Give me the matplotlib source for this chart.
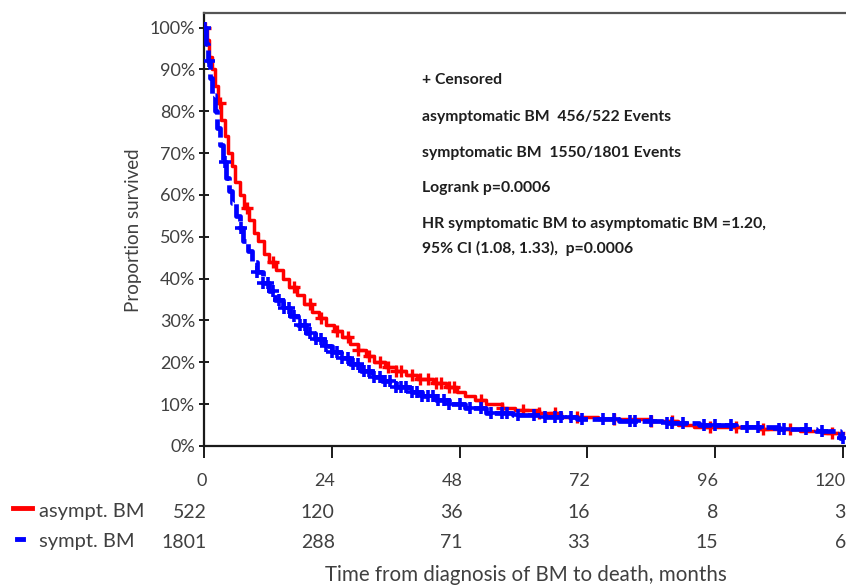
import numpy as np
import matplotlib
matplotlib.use("Agg")
import matplotlib.pyplot as plt
import matplotlib.transforms as mtransforms

# ---------------- data ----------------
red_t = [0, 0.5, 1.0, 1.5, 2.0, 2.6, 3.2, 3.9, 4.5, 5.2, 5.9, 6.7, 7.5, 8.4, 9.3, 10.2,
         11.2, 12.3, 13.5, 14.8, 16.0, 17.4, 18.8, 20.3, 21.6, 23.0, 24.5, 26.0, 27.5,
         29.0, 30.5, 32.0, 34.0, 36.0, 38.0, 40.0, 43.0, 45.5, 47.5, 49.0, 51.0, 53.0,
         56.0, 58.5, 63.0, 67.0, 74.0, 84.0, 89.0, 92.0, 104.0, 112.0, 116.0, 120.0]
red_s = [1.00, 0.97, 0.93, 0.90, 0.86, 0.82, 0.78, 0.74, 0.70, 0.67, 0.63, 0.60, 0.57,
         0.54, 0.51, 0.49, 0.46, 0.44, 0.42, 0.40, 0.38, 0.36, 0.34, 0.32, 0.305, 0.29,
         0.275, 0.26, 0.245, 0.23, 0.215, 0.20, 0.19, 0.18, 0.17, 0.16, 0.15, 0.14, 0.13,
         0.12, 0.11, 0.10, 0.09, 0.085, 0.078, 0.07, 0.065, 0.06, 0.05, 0.045, 0.04,
         0.035, 0.03, 0.03]

blue_t = [0, 0.3, 0.7, 1.1, 1.5, 2.0, 2.5, 3.0, 3.5, 4.1, 4.7, 5.3, 6.0, 6.7, 7.4, 8.2,
          9.0, 10.0, 11.0, 12.2, 13.4, 14.8, 16.2, 17.7, 19.2, 20.8, 22.5, 24.0, 25.8,
          27.5, 29.5, 31.5, 33.5, 36.0, 38.5, 41.0, 43.5, 46.0, 49.0, 53.0, 58.0, 64.0,
          70.0, 78.0, 86.0, 93.0, 100.0, 108.0, 115.0, 119.5, 120.0]
blue_s = [1.00, 0.96, 0.92, 0.88, 0.84, 0.80, 0.76, 0.72, 0.68, 0.64, 0.61, 0.58, 0.55,
          0.52, 0.49, 0.465, 0.44, 0.415, 0.39, 0.37, 0.35, 0.33, 0.31, 0.29, 0.27, 0.255,
          0.24, 0.225, 0.21, 0.195, 0.18, 0.165, 0.155, 0.14, 0.13, 0.12, 0.11, 0.10, 0.09,
          0.08, 0.075, 0.07, 0.065, 0.06, 0.055, 0.05, 0.045, 0.04, 0.035, 0.02, 0.02]

red_censor = [0.2, 3, 8, 13, 17, 20, 22, 25, 27, 29, 31, 33, 34.5, 36, 37, 39, 40.5, 42,
              43.5, 44.5, 46, 47, 52, 56, 60, 63, 66, 70, 77, 84, 88, 95, 100, 105, 110, 118]
blue_censor = [0.2, 1, 4, 7, 10, 11, 12, 13, 14, 15, 16, 17, 18, 19, 20, 21, 22, 23, 24,
               25, 26, 27, 28, 29, 30, 31, 32, 33, 34, 35, 36, 37, 38, 39, 40, 41, 42, 43,
               44, 45, 46, 48, 50, 52, 54, 56, 57, 59, 62, 64, 66, 67, 69, 71, 75, 77, 80,
               81, 84, 87, 88, 90, 94, 96, 99, 102, 104, 108, 109, 113, 116, 120]

risk_times = [0, 24, 48, 72, 96, 120]
risk_asympt = [522, 120, 36, 16, 8, 3]
risk_sympt = [1801, 288, 71, 33, 15, 6]

x_ticks = [0, 24, 48, 72, 96, 120]
y_ticks = [0, 0.1, 0.2, 0.3, 0.4, 0.5, 0.6, 0.7, 0.8, 0.9, 1.0]
y_ticklabels = ["0%", "10%", "20%", "30%", "40%", "50%", "60%", "70%", "80%", "90%", "100%"]

annotations = ["+ Censored",
               "asymptomatic BM  456/522 Events",
               "symptomatic BM  1550/1801 Events",
               "Logrank p=0.0006",
               "HR symptomatic BM to asymptomatic BM =1.20,",
               "95% CI (1.08, 1.33),  p=0.0006"]

# ---------------- style ----------------
plt.rcParams['font.family'] = ['Lato', 'DejaVu Sans']
RED = '#ff0000'
BLUE = '#0000ff'
GREY = '#404040'

W, H = 846, 585
fig = plt.figure(figsize=(W / 100, H / 100), dpi=100)
ax = fig.add_axes([204 / W, 1 - 446 / H, (W - 204) / W, (446 - 13) / H])


def step_value(ts, ss, t):
    idx = np.searchsorted(np.asarray(ts), t, side='right') - 1
    return np.asarray(ss)[idx]


ax.plot(red_t, red_s, drawstyle='steps-post', color=RED, lw=2.5, zorder=3)
ax.plot(red_censor, [step_value(red_t, red_s, t) for t in red_censor], ls='none',
        marker='+', ms=9, mew=2.4, color=RED, zorder=3)
ax.plot(blue_t, blue_s, drawstyle='steps-post', color=BLUE, lw=3.4, zorder=4,
        dashes=(4.5, 1.0))
ax.plot(blue_censor, [step_value(blue_t, blue_s, t) for t in blue_censor], ls='none',
        marker='+', ms=9, mew=2.6, color=BLUE, zorder=4)

ax.set_xlim(0, 120.6)
ax.set_ylim(0, 1.035)

ax.spines['right'].set_visible(False)
for s in ['left', 'bottom', 'top']:
    ax.spines[s].set_linewidth(1.6)
    ax.spines[s].set_color('#1a1a1a')
ax.spines['top'].set_color('#555555')

ax.set_yticks(y_ticks)
ax.set_yticklabels(y_ticklabels)
ax.tick_params(axis='y', direction='inout', length=7, width=1.4, pad=3,
               labelsize=13, labelcolor=GREY, color='#1a1a1a')
ax.set_xticks(x_ticks)
ax.set_xticklabels([str(v) for v in x_ticks])
ax.tick_params(axis='x', direction='out', length=8.5, width=1.4, pad=11,
               labelsize=13, labelcolor=GREY, color='#1a1a1a')
xoff = mtransforms.ScaledTranslation(3 / 100, 0, fig.dpi_scale_trans)
for lab in ax.get_xticklabels():
    lab.set_horizontalalignment('right')
    lab.set_transform(lab.get_transform() + xoff)

fig.text(133 / W, 1 - 230 / H, "Proportion survived", rotation=90, ha='center',
         va='center', fontsize=13.5, color=GREY)

# annotation block
ann_y = [80, 117, 153, 188, 224, 248]
for txt, yy in zip(annotations, ann_y):
    fig.text(422 / W, 1 - yy / H, txt, ha='left', va='center', fontsize=11.3,
             fontweight='bold', color='#1e1e1e')

# risk table
trans = mtransforms.blended_transform_factory(ax.transData, fig.transFigure)
off = mtransforms.offset_copy(trans, fig=fig, x=3, y=0, units='dots')
for t, a, b in zip(risk_times, risk_asympt, risk_sympt):
    ax.text(t, 1 - 512 / H, str(a), transform=off, ha='right', va='center',
            fontsize=14, color=GREY, clip_on=False)
    ax.text(t, 1 - 542 / H, str(b), transform=off, ha='right', va='center',
            fontsize=14, color=GREY, clip_on=False)

fig.text(39 / W, 1 - 512 / H, "asympt. BM", ha='left', va='center', fontsize=14.5, color=GREY)
fig.text(39 / W, 1 - 542 / H, "sympt. BM", ha='left', va='center', fontsize=14.5, color=GREY)
fig.add_artist(plt.Line2D([13 / W, 32 / W], [1 - 508 / H, 1 - 508 / H], color=RED, lw=3.5))
fig.add_artist(plt.Line2D([17 / W, 23 / W], [1 - 539 / H, 1 - 539 / H], color=BLUE, lw=3.5))

fig.text(526 / W, 1 - 575 / H, "Time from diagnosis of BM to death, months", ha='center',
         va='center', fontsize=14.8, color=GREY)

fig.savefig("out.png", dpi=100)
